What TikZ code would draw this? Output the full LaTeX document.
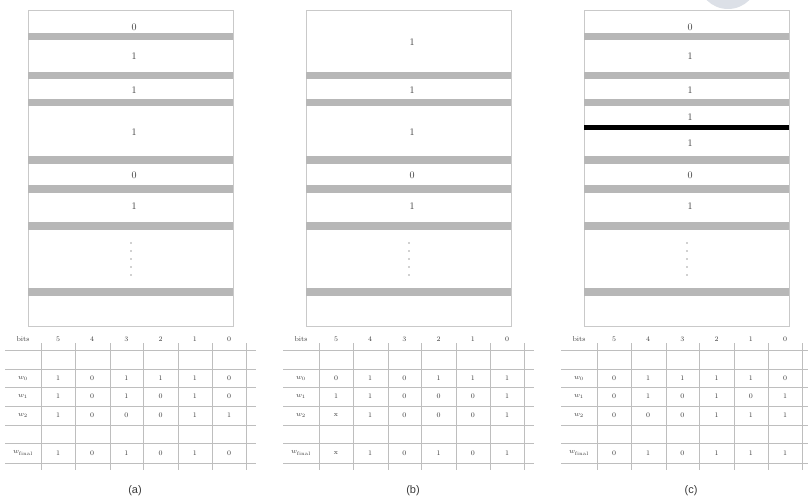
\documentclass[tikz,border=0pt]{standalone}
\usepackage{fontspec}
\newfontfamily\capfont{Liberation Sans}
\usetikzlibrary{calc}
\definecolor{BarGray}{HTML}{B7B7B7}
\definecolor{EdgeGray}{HTML}{C9C9C9}
\definecolor{GridGray}{HTML}{BEBEBE}
\definecolor{InkGray}{HTML}{3A3A3A}
\definecolor{BlotBlue}{HTML}{DCE0E7}
\tikzset{
  memtxt/.style={font=\fontsize{10}{11}\selectfont, text=InkGray, inner sep=0pt},
  tabtxt/.style={font=\fontsize{7}{8}\selectfont, text=InkGray, inner sep=0pt},
  captxt/.style={font=\capfont\fontsize{11}{12}\selectfont, text=InkGray, inner sep=0pt},
}

\begin{document}
\begin{tikzpicture}[x=1pt, y=-1pt]
  \useasboundingbox (0,0) rectangle (808,500);
  \begin{scope}
    \clip (0,0) rectangle (808,500);
    \fill[BlotBlue] (728,-21) circle (30);
  \end{scope}
  % memory boxes with separator bars
  \foreach \sh/\bars in {0/{33,72,99,156,185,222,288}, 278/{72,99,156,185,222,288}, 556/{33,72,99,156,185,222,288}} {
    \draw[EdgeGray, line width=0.6pt] (28+\sh,10) rectangle (233+\sh,326);
    \foreach \y in \bars \fill[BarGray] (28+\sh,\y) rectangle (233+\sh,\y+7.5);
    \foreach \k in {0,...,4} \fill[InkGray] (131+\sh,243+8*\k) circle (0.7);
  }
  \draw[line width=5pt, black] (584,128) -- (789,128);
  % bit values in the boxes
  \foreach \y/\v in {27/0, 56/1, 90/1, 132/1, 175/0, 206/1} \node[memtxt] (ma-\y) at (134,\y) {\v};
  \foreach \y/\v in {42/1, 90/1, 132/1, 175/0, 206/1} \node[memtxt] (mb-\y) at (412,\y) {\v};
  \foreach \y/\v in {27/0, 56/1, 90/1, 117/1, 143/1, 175/0, 206/1} \node[memtxt] (mc-\y) at (690,\y) {\v};
  % tables
  \foreach \sh/\p/\ra/\rb/\rc/\rr in {
      0/a/{1,0,1,1,1,0}/{1,0,1,0,1,0}/{1,0,0,0,1,1}/{1,0,1,0,1,0},
      278/b/{0,1,0,1,1,1}/{1,1,0,0,0,1}/{x,1,0,0,0,1}/{x,1,0,1,0,1},
      556/c/{0,1,1,1,1,0}/{0,1,0,1,0,1}/{0,0,0,1,1,1}/{0,1,0,1,1,1}} {
    \foreach \y in {350,369,387,406,425,443,463} \draw[GridGray, line width=0.5pt] (5+\sh,\y) -- (256+\sh,\y);
    \foreach \x in {41,75,110,143,178,212,246} \draw[GridGray, line width=0.5pt] (\x+\sh,343) -- (\x+\sh,470);
    \node[tabtxt] (bits-\p) at (23+\sh,339) {bits};
    \foreach \b [count=\i] in {5,4,3,2,1,0} \node[tabtxt] (hd-\p\i) at (58+34.2*\i-34.2+\sh,339) {\b};
    \node[tabtxt] (lw0-\p) at (23+\sh,378) {$w_0$};
    \node[tabtxt] (lw1-\p) at (23+\sh,396) {$w_1$};
    \node[tabtxt] (lw2-\p) at (23+\sh,415) {$w_2$};
    \node[tabtxt] (lwf-\p) at (23+\sh,453) {$w_{\mathrm{final}}$};
    \foreach \v [count=\i] in \ra \node[tabtxt] (va-\p\i) at (58+34.2*\i-34.2+\sh,378) {\v};
    \foreach \v [count=\i] in \rb \node[tabtxt] (vb-\p\i) at (58+34.2*\i-34.2+\sh,396) {\v};
    \foreach \v [count=\i] in \rc \node[tabtxt] (vc-\p\i) at (58+34.2*\i-34.2+\sh,415) {\v};
    \foreach \v [count=\i] in \rr \node[tabtxt] (vr-\p\i) at (58+34.2*\i-34.2+\sh,453) {\v};
    \node[captxt] (cap-\p) at (135+\sh,491) {(\p)};
  }
\end{tikzpicture}
\end{document}
